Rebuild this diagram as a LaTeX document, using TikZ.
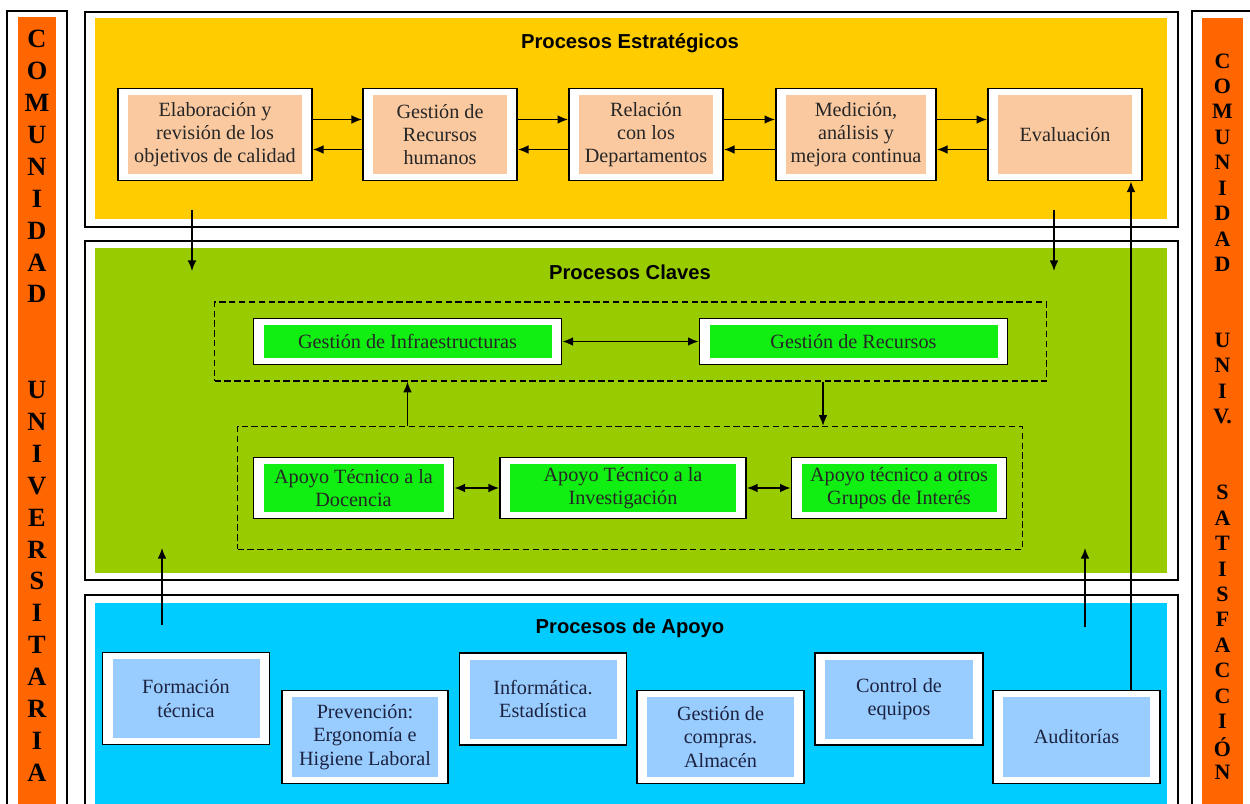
\documentclass[tikz,border=0pt]{standalone}
\usepackage{fontspec}
\setmainfont{Liberation Serif}
\setsansfont{Liberation Sans}
\usetikzlibrary{fit,arrows.meta}

\definecolor{amarillo}{HTML}{FFCC00}
\definecolor{salmon}{HTML}{FAC9A0}
\definecolor{verdeclave}{HTML}{99CC00}
\definecolor{verdecaja}{HTML}{11EE11}
\definecolor{azul}{HTML}{00CCFF}
\definecolor{celeste}{HTML}{99CCFF}
\definecolor{naranja}{HTML}{FF6600}
\definecolor{tinta}{HTML}{1C2340}

\newcommand{\upx}{0.02cm}
% caja blanca con marco negro y rectangulo de color dentro
\newcommand{\caja}[6]{%
  \node[marco, minimum width={(#3+20)*\upx}, minimum height={(#4+13)*\upx}] (#1) at (#2) {};
  \node[#5, minimum width={#3*\upx}, minimum height={#4*\upx}] (#1t) at (#1) {#6};
}

\tikzset{
  marco/.style={draw, line width=1.1pt, fill=white, inner sep=0pt},
  estrat/.style={fill=salmon, text=black!85, align=center, inner sep=0pt, font=\rmfamily\fontsize{11.5}{13.3}\selectfont},
  clave/.style={fill=verdecaja, text=black!85, align=center, inner sep=0pt, font=\rmfamily\fontsize{11.5}{13.3}\selectfont},
  apoyo/.style={fill=celeste, text=tinta, align=center, inner sep=0pt, font=\rmfamily\fontsize{11.5}{13.3}\selectfont},
  titulo/.style={font=\sffamily\bfseries\fontsize{11.5}{14}\selectfont},
  letraiz/.style={font=\rmfamily\bfseries\fontsize{15}{15}\selectfont},
  letrade/.style={font=\rmfamily\bfseries\fontsize{12.5}{12.5}\selectfont},
  discont/.style={draw, line width=0.9pt, dash pattern=on 3.6pt off 2pt},
  flecha/.style={-{Latex[length=6pt,width=5pt]}, line width=0.9pt},
  flecha2/.style={{Latex[length=6pt,width=5pt]}-{Latex[length=6pt,width=5pt]}, line width=0.9pt}
}

\begin{document}
\begin{tikzpicture}[x=0.02cm, y=-0.02cm]
    \useasboundingbox (0,0) rectangle (1250,804);
    % columnas laterales
    \draw[line width=1pt, fill=white] (7,11) rectangle (67,830);
    \fill[naranja] (18,17) rectangle (56,830);
    \draw[line width=1pt, fill=white] (1192,11) rectangle (1270,830);
    \fill[naranja] (1202,18) rectangle (1243,830);
    \foreach \l [count=\i from 0] in {C,O,M,U,N,I,D,A,D}
        \node[letraiz] (iz\i) at (37,39+\i*31.9) {\l};
    \foreach \l [count=\i from 11] in {U,N,I,V,E,R,S,I,T,A,R,I,A}
        \node[letraiz] (iz\i) at (37,39+\i*31.9) {\l};
    \foreach \l [count=\i from 0] in {C,O,M,U,N,I,D,A,D}
        \node[letrade] (de\i) at (1222.5,61+\i*25.4) {\l};
    \foreach \l [count=\i from 11] in {U,N,I,V.}
        \node[letrade] (de\i) at (1222.5,61+\i*25.4) {\l};
    \foreach \l [count=\i from 17] in {S,A,T,I,S,F,A,C,C,I,Ó,N}
        \node[letrade] (de\i) at (1222.5,61+\i*25.4) {\l};

    % procesos estrategicos
    \draw[line width=0.9pt, fill=white] (85,12) rectangle (1178,227);
    \fill[amarillo] (95,18) rectangle (1167,219);
    \node[titulo] (tEst) at (630,43) {Procesos Estratégicos};
    \caja{obj}{215,134.5}{174}{79}{estrat}{Elaboración y\\revisión de los\\objetivos de calidad}
    \caja{rh}{440,134.5}{134}{79}{estrat}{Gestión de\\Recursos\\humanos}
    \caja{dep}{646,134.5}{134}{79}{estrat}{Relación\\con los\\Departamentos}
    \caja{med}{856,134.5}{140}{79}{estrat}{Medición,\\análisis y\\mejora continua}
    \caja{eva}{1065,134.5}{134}{79}{estrat}{Evaluación}
    \foreach \a/\b in {obj/rh, rh/dep, dep/med, med/eva} {
        \draw[flecha] ([yshift=0.3cm]\a.east) -- ([yshift=0.3cm]\b.west);
        \draw[flecha] ([yshift=-0.3cm]\b.west) -- ([yshift=-0.3cm]\a.east);
    }

    % procesos claves
    \draw[line width=0.9pt, fill=white] (85,241) rectangle (1178,580);
    \fill[verdeclave] (95,248) rectangle (1167,573);
    \node[titulo] (tCla) at (630,272) {Procesos Claves};
    \caja{gi}{407.5,341.5}{288}{33}{clave}{Gestión de Infraestructuras}
    \caja{gr}{853.5,341.5}{288}{33}{clave}{Gestión de Recursos}
    \caja{ad}{353.5,488}{180}{48}{clave}{Apoyo Técnico a la\\Docencia}
    \caja{ai}{623,488}{226}{48}{clave}{Apoyo Técnico a la\\Investigación}
    \caja{ao}{899,488}{195}{48}{clave}{Apoyo técnico a otros\\Grupos de Interés}
    \node[discont, fit=(gi)(gr), inner xsep=0.76cm, inner ysep=0.31cm] (grupo1) {};
    \node[discont, fit=(ad)(ao), inner xsep=0.3cm, inner ysep=0.6cm] (grupo2) {};
    \draw[flecha2] (gi) -- (gr);
    \draw[flecha2] (ad) -- (ai);
    \draw[flecha2] (ai) -- (ao);
    \coordinate (baja) at (823,0);
    \draw[flecha] (grupo2.north -| gi.south) -- (grupo1.south -| gi.south);
    \draw[flecha] (grupo1.south -| baja) -- (grupo2.north -| baja);

    % procesos de apoyo
    \draw[line width=0.9pt, fill=white] (85,595) rectangle (1178,830);
    \fill[azul] (95,603) rectangle (1167,830);
    \node[titulo] (tApo) at (630,628) {Procesos de Apoyo};
    \caja{form}{186,698.5}{147}{79}{apoyo}{Formación\\técnica}
    \caja{pre}{365,737}{146}{80}{apoyo}{Prevención:\\Ergonomía e\\Higiene Laboral}
    \caja{inf}{543,699}{147}{79}{apoyo}{Informática.\\Estadística}
    \caja{com}{720.5,737}{147}{80}{apoyo}{Gestión de\\compras.\\Almacén}
    \caja{equ}{899,699}{148}{79}{apoyo}{Control de\\equipos}
    \caja{aud}{1076.5,737}{147}{80}{apoyo}{Auditorías}

    % flechas entre bloques
    \coordinate (sal1) at (192,210);  \coordinate (ent1) at (192,271);
    \coordinate (sal2) at (1054,210); \coordinate (ent2) at (1054,271);
    \coordinate (sal3) at (162,625);  \coordinate (ent3) at (162,548);
    \coordinate (sal4) at (1085,627); \coordinate (ent4) at (1085,548);
    \draw[flecha] (sal1) -- (ent1);
    \draw[flecha] (sal2) -- (ent2);
    \draw[flecha] (sal3) -- (ent3);
    \draw[flecha] (sal4) -- (ent4);
    \coordinate (aud1) at ([xshift=1.09cm]aud.north);
    \draw[flecha] (aud1) -- (aud1 |- eva.south);
\end{tikzpicture}
\end{document}
